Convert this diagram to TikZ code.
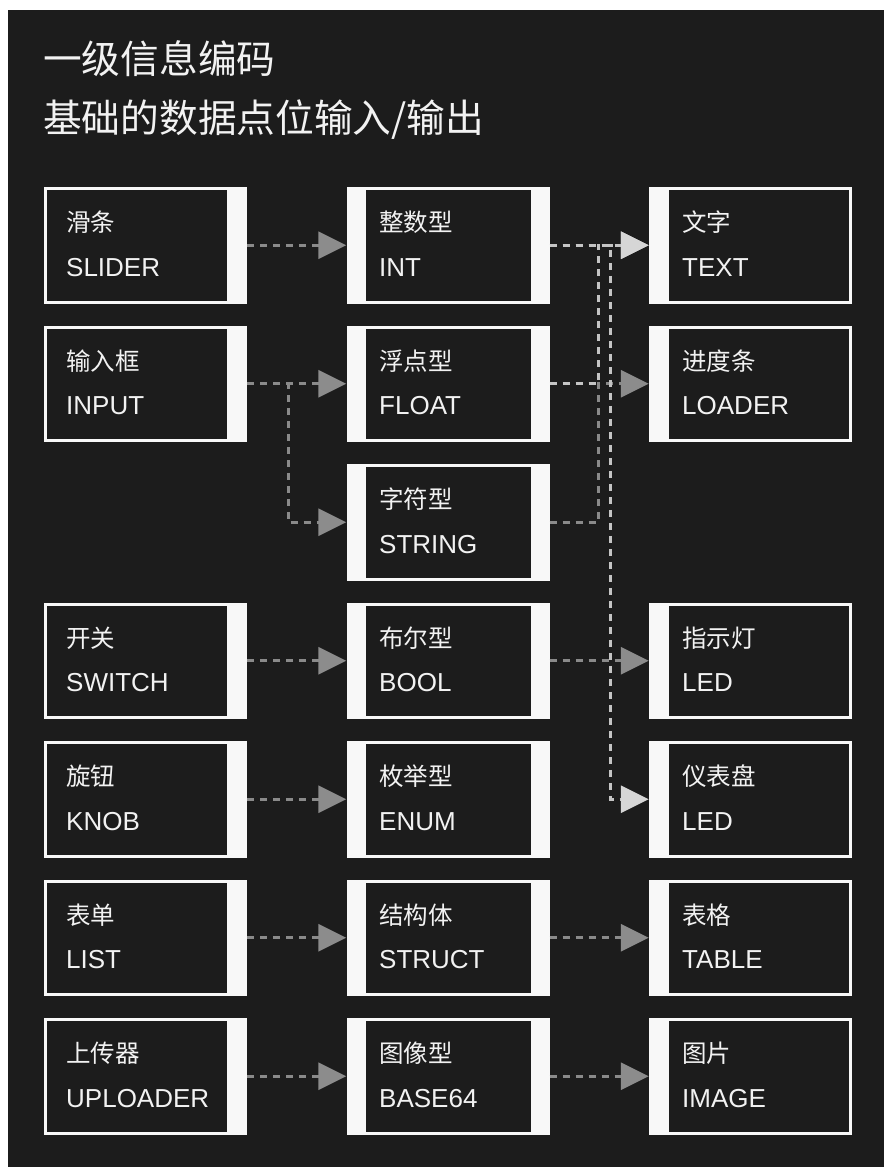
\documentclass[tikz,border=0pt]{standalone}
\usepackage{fontspec}
\setmainfont{Liberation Sans}
\newfontfamily\cjk{Noto Sans CJK SC}
\usetikzlibrary{arrows.meta}
\definecolor{bgc}{HTML}{1C1C1C}
\definecolor{boxw}{HTML}{F8F8F8}
\definecolor{txt}{HTML}{F2F2F2}
\definecolor{gline}{HTML}{8A8A8A}
\definecolor{gtip}{HTML}{8C8C8C}
\definecolor{lline}{HTML}{C4C4C4}
\definecolor{ltip}{HTML}{D6D6D6}
\tikzset{
  ibase/.style={rectangle, draw=none, fill=boxw, inner sep=0pt,
    minimum width=203pt, minimum height=116.5pt},
  boxA/.style={ibase, path picture={\fill[bgc]
    ([xshift=3pt,yshift=3pt]path picture bounding box.south west) rectangle
    ([xshift=-20pt,yshift=-3pt]path picture bounding box.north east);}},
  boxB/.style={ibase, path picture={\fill[bgc]
    ([xshift=19pt,yshift=3pt]path picture bounding box.south west) rectangle
    ([xshift=-19pt,yshift=-3pt]path picture bounding box.north east);}},
  boxC/.style={ibase, path picture={\fill[bgc]
    ([xshift=20pt,yshift=3pt]path picture bounding box.south west) rectangle
    ([xshift=-3pt,yshift=-3pt]path picture bounding box.north east);}},
  cntext/.style={text=txt, font=\cjk\fontsize{24.5pt}{24.5pt}\selectfont,
    inner sep=0pt, anchor=west},
  entext/.style={text=txt, font=\fontsize{26pt}{26pt}\selectfont,
    inner sep=0pt, anchor=base west},
  titletext/.style={text=txt, font=\cjk\fontsize{38.7pt}{38.7pt}\selectfont,
    inner sep=0pt, anchor=west},
  glink/.style={draw=gline, line width=3pt, dash pattern=on 7pt off 6pt,
    -{Triangle[length=28pt,width=27pt,color=gtip]}},
  llink/.style={draw=lline, line width=3pt, dash pattern=on 7pt off 6pt,
    -{Triangle[length=28pt,width=27pt,color=ltip]}},
}
\newcommand\ibox[7]{%
  \node[#2] (#1) at (#3,#4) {};
  \node[cntext] (#1-cn) at (#5,{#4-22.75}) {#6};
  \node[entext] (#1-en) at (#5,{#4+30.75}) {#7};
}
\begin{document}
\begin{tikzpicture}[x=1pt,y=-1pt]
\useasboundingbox (0,0) rectangle (884,1167);
\fill[white] (0,0) rectangle (884,1167);
\fill[bgc] (8,10) rectangle (884,1167);

\node[titletext] (title1) at (43,59) {一级信息编码};
\node[titletext] (title2) at (43,120) {基础的数据点位输入/输出};

% column 1
\ibox{slider}{boxA}{145.5}{245.25}{66}{滑条}{SLIDER}
\ibox{input}{boxA}{145.5}{383.75}{66}{输入框}{INPUT}
\ibox{switch}{boxA}{145.5}{660.75}{66}{开关}{SWITCH}
\ibox{knob}{boxA}{145.5}{799.25}{66}{旋钮}{KNOB}
\ibox{list}{boxA}{145.5}{937.75}{66}{表单}{LIST}
\ibox{uploader}{boxA}{145.5}{1076.25}{66}{上传器}{UPLOADER}
% column 2
\ibox{int}{boxB}{448}{245.25}{379}{整数型}{INT}
\ibox{float}{boxB}{448}{383.75}{379}{浮点型}{FLOAT}
\ibox{string}{boxB}{448}{522.25}{379}{字符型}{STRING}
\ibox{bool}{boxB}{448}{660.75}{379}{布尔型}{BOOL}
\ibox{enum}{boxB}{448}{799.25}{379}{枚举型}{ENUM}
\ibox{struct}{boxB}{448}{937.75}{379}{结构体}{STRUCT}
\ibox{base}{boxB}{448}{1076.25}{379}{图像型}{BASE64}
% column 3
\ibox{text}{boxC}{750.5}{245.25}{682}{文字}{TEXT}
\ibox{loader}{boxC}{750.5}{383.75}{682}{进度条}{LOADER}
\ibox{led}{boxC}{750.5}{660.75}{682}{指示灯}{LED}
\ibox{dial}{boxC}{750.5}{799.25}{682}{仪表盘}{LED}
\ibox{table}{boxC}{750.5}{937.75}{682}{表格}{TABLE}
\ibox{image}{boxC}{750.5}{1076.25}{682}{图片}{IMAGE}

% junctions
\coordinate (jIn) at (288,383.75);
\coordinate (jStr) at (598,522.25);
\coordinate (jFl) at (598,383.75);
\coordinate (jInt) at (610,245.25);

% gray links
\draw[glink] (slider.east) -- (int.west);
\draw[glink] (input.east) -- (float.west);
\draw[glink] (input.east) -- (jIn) |- (string.west);
\draw[glink] (string.east) -- (jStr) |- (loader.west);
\draw[glink] (switch.east) -- (bool.west);
\draw[glink] (bool.east) -- (led.west);
\draw[glink] (knob.east) -- (enum.west);
\draw[glink] (list.east) -- (struct.west);
\draw[glink] (struct.east) -- (table.west);
\draw[glink] (uploader.east) -- (base.west);
\draw[glink] (base.east) -- (image.west);
% light links
\draw[llink] (float.east) -- (jFl) |- (text.west);
\draw[llink] (int.east) -- (text.west);
\draw[llink] (int.east) -- (jInt) |- (dial.west);
\end{tikzpicture}
\end{document}
